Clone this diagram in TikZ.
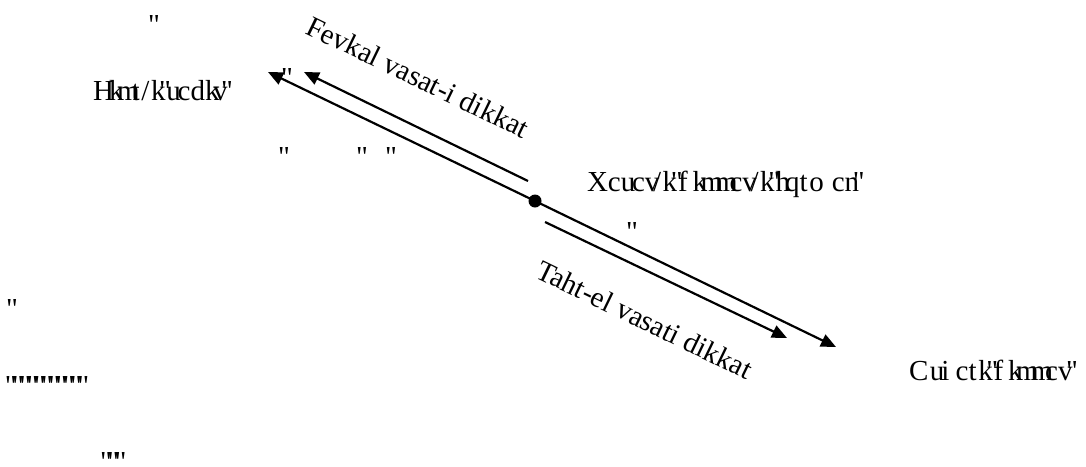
\documentclass[tikz,border=0pt]{standalone}
\usepackage{fontspec}
\setmainfont{Liberation Serif}[Ligatures=TeXOff]
\usetikzlibrary{arrows.meta}
\newcommand\gb[2]{\makebox[#2em][l]{#1}}
\begin{document}
\begin{tikzpicture}[x=1pt,y=-1pt,
  txt/.style={inner sep=0pt,outer sep=0pt,anchor=base west,font=\fontsize{29pt}{34pt}\selectfont},
  lbl/.style={txt,rotate=-25.8},
  arr/.style={line width=2.2pt,-{Triangle[length=15pt,width=13pt]}},
  ]
\fill[white] (0,0) rectangle (1086,466);
\useasboundingbox (0,0) rectangle (1086,466);
% texts
\node[txt] (q1) at (148,34) {"};
\node[txt] (obj) at (93,100) {\gb{H}{.556}\gb{k}{.278}\gb{m}{.5}\gb{t}{.333}\gb{/}{.333}\gb{k}{.278}\gb{"}{.25}\gb{u}{.389}\gb{c}{.444}\gb{d}{.5}\gb{k}{.278}\gb{v}{.278}\gb{"}{.25}};
\node[txt] (q2) at (281,87) {"};
\node[txt] (q3) at (278,166) {"};
\node[txt] (q4) at (356,166) {"};
\node[txt] (q5) at (385,166) {"};
\node[txt] (mid) at (587,191) {\gb{X}{.722}\gb{c}{.444}\gb{u}{.389}\gb{c}{.444}\gb{v}{.278}\gb{/}{.333}\gb{k}{.278}\gb{"}{.25}\gb{f}{.5}\gb{k}{.278}\gb{m}{.5}\gb{m}{.5}\gb{c}{.444}\gb{v}{.278}\gb{/}{.333}\gb{k}{.278}\gb{"}{.25}\gb{h}{.333}\gb{q}{.5}\gb{t}{.333}\gb{o}{.778}\gb{c}{.444}\gb{n}{.278}\gb{"}{.25}};
\node[txt] (q6) at (626,241) {"};
\node[txt] (q7) at (6,318) {"};
\node[txt] (row) at (5,395) {\gb{"}{.25}\gb{"}{.25}\gb{"}{.25}\gb{"}{.25}\gb{"}{.25}\gb{"}{.25}\gb{"}{.25}\gb{"}{.25}\gb{"}{.25}\gb{"}{.25}\gb{"}{.25}};
\node[txt] (goal) at (909,380) {\gb{C}{.722}\gb{u}{.389}\gb{i}{.5}\gb{c}{.444}\gb{t}{.333}\gb{k}{.278}\gb{"}{.25}\gb{f}{.5}\gb{k}{.278}\gb{m}{.5}\gb{m}{.5}\gb{c}{.444}\gb{v}{.278}\gb{"}{.25}};
\node[txt] (row2) at (100,455) {\raisebox{-16pt}[0pt][0pt]{\gb{"}{.25}\gb{"}{.25}\gb{"}{.25}}};
\node[lbl] (up) at (304,33) {Fevkal vasat-i dikkat};
\node[lbl] (down) at (534,277) {Taht-el vasati dikkat};
% geometry
\node[circle,fill,inner sep=0pt,minimum size=13pt] (dot) at (535,201) {};
\coordinate (a1) at (268,72);
\coordinate (a2) at (836,347);
\coordinate (u1) at (528,181);
\coordinate (u2) at (304,72);
\coordinate (l1) at (545,222);
\coordinate (l2) at (787,338);
\draw[arr] (dot.center) -- (a1);
\draw[arr] (dot.center) -- (a2);
\draw[arr] (u1) -- (u2);
\draw[arr] (l1) -- (l2);
\end{tikzpicture}
\end{document}
